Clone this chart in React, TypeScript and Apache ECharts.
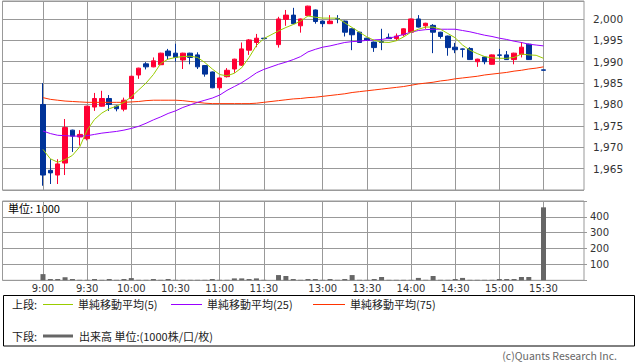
import React, { useEffect, useRef } from 'react';
import * as echarts from 'echarts';

const times = ['9:00','9:05','9:10','9:15','9:20','9:25','9:30','9:35','9:40','9:45','9:50','9:55',
  '10:00','10:05','10:10','10:15','10:20','10:25','10:30','10:35','10:40','10:45','10:50','10:55',
  '11:00','11:05','11:10','11:15','11:20','11:25','11:30','',
  '12:30','12:35','12:40','12:45','12:50','12:55','13:00','13:05','13:10','13:15','13:20','13:25',
  '13:30','13:35','13:40','13:45','13:50','13:55','14:00','14:05','14:10','14:15','14:20','14:25',
  '14:30','14:35','14:40','14:45','14:50','14:55','15:00','15:05','15:10','15:15','15:20','15:25','15:30'];

const tickLabels = ['9:00','9:30','10:00','10:30','11:00','11:30','13:00','13:30','14:00','14:30','15:00','15:30'];

const opens = [1980.0,1964.6,1963.5,1966.3,1974.0,1972.4,1972.0,1979.4,1979.6,1981.4,1979.6,1978.9,
  1981.4,1986.9,1989.5,1988.8,1989.3,1992.5,1992.0,1990.4,1992.0,1991.6,1989.1,1987.6,
  1983.9,1986.5,1988.3,1989.2,1992.7,1994.5,1995.5,null,
  1994.0,1999.9,2000.9,1998.4,2000.8,2002.1,1999.5,1998.9,2000.1,1999.5,1997.7,1996.9,
  1995.5,1994.6,1994.7,1995.7,1995.4,1996.3,1996.9,2000.0,1998.4,1998.5,1996.9,1996.0,
  1993.4,1993.0,1993.1,1990.0,1991.1,1989.4,1991.6,1991.6,1990.5,1991.7,1994.1,null,1988.1];
const closes = [1963.5,1964.0,1966.1,1974.6,1972.6,1973.0,1979.6,1981.4,1981.4,1980.0,1979.0,1981.0,
  1986.6,1988.5,1988.8,1990.2,1992.0,1991.4,1991.0,1992.0,1991.0,1988.8,1987.1,1983.9,
  1986.2,1988.0,1990.6,1993.0,1995.1,1995.5,1995.4,null,
  2000.0,2000.9,1998.9,2000.0,2003.0,1999.4,1998.9,1999.5,2000.0,1996.9,1996.3,1994.5,
  1995.0,1993.3,1994.5,1995.4,1996.0,1997.7,2000.0,1998.1,1999.0,1996.9,1995.9,1993.3,
  1992.8,1992.9,1990.5,1990.6,1990.0,1991.6,1991.5,1990.5,1992.0,1993.4,1990.5,null,1988.0];
const lows = [1961.0,1961.4,1961.4,1963.5,1968.9,1970.4,1971.6,1978.5,1979.5,1978.5,1978.4,1978.4,
  1981.3,1986.0,1988.2,1988.7,1989.2,1990.4,1990.0,1988.3,1989.4,1988.3,1986.5,1983.8,
  1983.4,1986.3,1987.4,1989.0,1991.6,1993.4,1995.4,null,
  1993.3,1998.4,1998.8,1996.8,2000.7,1998.9,1998.1,1998.8,1999.0,1995.9,1992.7,1994.4,
  1994.9,1992.3,1992.7,1995.3,1994.9,1995.9,1996.8,1998.0,1997.7,1992.0,1995.4,1991.4,
  1992.0,1991.0,1990.4,1988.8,1989.4,1989.3,1990.6,1990.4,1989.4,1991.0,1990.4,null,1988.0];
const highs = [1985.0,1967.2,1967.2,1976.6,1974.1,1974.0,1979.7,1982.7,1983.2,1982.2,1979.8,1981.6,
  1986.7,1988.6,1989.9,1991.0,1992.1,1993.0,1994.2,1992.1,1992.1,1992.2,1989.2,1987.7,
  1986.3,1988.5,1990.7,1994.5,1995.3,1996.5,1995.5,null,
  2000.5,2002.1,2002.6,2000.1,2003.1,2002.2,1999.6,2000.9,2000.9,1999.6,1997.8,1997.0,
  1995.6,1994.7,1997.7,1996.6,1996.6,1997.8,2000.1,2000.9,1999.1,1998.8,1997.0,1996.1,
  1994.4,1993.1,1993.4,1990.7,1991.2,1991.7,1993.0,1992.5,1992.1,1994.6,1994.2,null,1988.1];

const ma5 = [1969.5,1967.3,1966.5,1967.1,1968.1,1970.1,1974.0,1976.5,1978.0,1979.0,1979.6,1980.5,
  1981.8,1983.4,1985.0,1987.0,1989.6,1990.6,1991.0,1991.2,1991.3,1991.0,1989.8,1988.3,
  1987.0,1986.7,1987.3,1988.6,1991.0,1993.8,1995.4,null,
  1997.2,1998.0,1998.7,1999.5,2000.7,2000.4,2000.2,2000.2,2000.2,1999.1,1998.0,1996.9,
  1995.8,1995.0,1994.6,1994.5,1994.9,1995.8,1996.9,1997.6,1998.1,1998.1,1997.6,1996.6,
  1995.6,1993.9,1992.7,1991.9,1991.2,1990.9,1990.8,1990.8,1991.0,1991.8,1991.6,1991.5,1990.8];
const ma25 = [1973.8,1973.2,1972.8,1972.7,1972.6,1972.6,1972.7,1973.0,1973.3,1973.5,1973.7,1974.0,
  1974.4,1974.9,1975.6,1976.4,1977.1,1977.9,1978.5,1979.3,1979.9,1980.5,1981.0,1981.5,
  1982.2,1983.3,1984.2,1985.1,1986.2,1987.4,1988.2,null,
  1989.4,1989.9,1990.5,1991.2,1992.3,1992.9,1993.4,1993.7,1994.1,1994.5,1994.7,1994.8,
  1995.0,1995.1,1995.2,1995.5,1995.9,1996.4,1996.9,1997.3,1997.5,1997.6,1997.6,1997.6,
  1997.6,1997.3,1997.0,1996.6,1996.2,1995.9,1995.5,1995.2,1994.8,1994.5,1994.1,1993.9,1993.7];
const ma75 = [1981.6,1981.2,1981.0,1980.8,1980.7,1980.6,1980.5,1980.5,1980.5,1980.5,1980.5,1980.5,
  1980.6,1980.7,1980.9,1981.0,1981.0,1981.0,1981.0,1980.9,1980.7,1980.5,1980.3,1980.2,
  1980.2,1980.2,1980.2,1980.2,1980.2,1980.3,1980.5,null,
  1980.9,1981.1,1981.3,1981.4,1981.6,1981.7,1981.9,1982.1,1982.3,1982.5,1982.8,1983.0,
  1983.2,1983.4,1983.6,1983.8,1984.0,1984.2,1984.5,1984.8,1985.0,1985.2,1985.5,1985.7,
  1986.0,1986.2,1986.4,1986.6,1986.9,1987.1,1987.3,1987.5,1987.8,1988.0,1988.3,1988.5,1988.8];

const volumes = [39,8,8,20,8,3,3,8,3,8,3,8,14,3,3,8,3,8,3,3,3,3,3,8,3,3,12,12,8,12,3,null,
  33,27,8,3,8,8,3,8,3,8,33,3,3,8,21,3,3,3,3,15,3,27,3,3,8,15,3,3,3,3,8,8,8,21,21,null,460];

const PAD = 5;
const UP = '#ff0033';
const DOWN = '#003399';
const GRID = '#999999';
const CJK = '"Noto Sans CJK JP", "Noto Sans", sans-serif';
const NUM = '"DejaVu Sans", sans-serif';

export default function App() {
  const ref = useRef<HTMLDivElement>(null);
  useEffect(() => {
    if (!ref.current) return;
    const chart = echarts.init(ref.current, null, { renderer: 'svg' });
    const pad = (arr: any[]) => [...Array(PAD).fill('-'), ...arr.map((v) => (v === null ? '-' : v)), ...Array(PAD).fill('-')];
    const cats = [...Array(PAD).fill(''), ...times, ...Array(PAD).fill('')];
    const ohlc = [
      ...Array(PAD).fill(['-', '-', '-', '-']),
      ...times.map((_, i) => opens[i] === null ? ['-', '-', '-', '-'] : [opens[i], closes[i], lows[i], highs[i]]),
      ...Array(PAD).fill(['-', '-', '-', '-']),
    ];
    const gridInterval = (idx: number, val: string) => tickLabels.includes(val);
    const gridL = 2.5, gridW = 581.5;
    const lineS = (name: string, data: any[], color: string) => ({
      type: 'line', name, data: pad(data), xAxisIndex: 0, yAxisIndex: 0,
      symbol: 'none', connectNulls: true, z: 5,
      lineStyle: { color, width: 1 }, itemStyle: { color },
    });
    chart.setOption({
      animation: false,
      backgroundColor: '#ffffff',
      grid: [
        { left: gridL, top: 1, width: gridW, height: 189, show: true, borderColor: GRID, borderWidth: 1, backgroundColor: 'transparent' },
        { left: gridL, top: 201, width: gridW, height: 79.3, show: true, borderColor: GRID, borderWidth: 1, backgroundColor: 'transparent' },
      ],
      xAxis: [
        {
          type: 'category', gridIndex: 0, data: cats, boundaryGap: true,
          axisLine: { show: false }, axisTick: { show: false }, axisLabel: { show: false },
          splitLine: { show: true, interval: gridInterval, alignWithLabel: true, lineStyle: { color: GRID, width: 1 } },
        },
        {
          type: 'category', gridIndex: 1, data: cats, boundaryGap: true,
          axisLine: { show: false }, axisTick: { show: false },
          axisLabel: { show: true, interval: gridInterval, color: '#333', fontSize: 10, fontFamily: NUM, margin: 3 },
          splitLine: { show: true, interval: gridInterval, alignWithLabel: true, lineStyle: { color: GRID, width: 1 } },
        },
      ],
      yAxis: [
        {
          type: 'value', gridIndex: 0, position: 'right', min: 1960, max: 2004.2, interval: 5,
          axisLine: { show: false }, axisTick: { show: false },
          splitLine: { show: true, lineStyle: { color: GRID, width: 1 } },
          axisLabel: {
            color: '#333', fontSize: 10.5, fontFamily: NUM, margin: 9, showMinLabel: false, showMaxLabel: false,
            formatter: (v: number) => (v % 5 === 0 && v > 1960 && v <= 2000 ? v.toLocaleString('en-US') : ''),
          },
        },
        {
          type: 'value', gridIndex: 1, position: 'right', min: 0, max: 500, interval: 100,
          axisLine: { show: false }, axisTick: { show: true, length: 3, lineStyle: { color: GRID } },
          splitLine: { show: true, lineStyle: { color: GRID, width: 1 } },
          axisLabel: {
            color: '#333', fontSize: 10, fontFamily: NUM, margin: 6,
            formatter: (v: number) => (v > 0 && v < 500 ? String(v) : ''),
          },
        },
      ],
      series: [
        {
          type: 'candlestick', xAxisIndex: 0, yAxisIndex: 0, data: ohlc, barWidth: 5, z: 3,
          itemStyle: { color: UP, color0: DOWN, borderColor: UP, borderColor0: DOWN, borderWidth: 1 },
        },
        lineS('ma75', ma75, '#ff3300'),
        lineS('ma25', ma25, '#9900ff'),
        lineS('ma5', ma5, '#99cc00'),
        {
          type: 'bar', xAxisIndex: 1, yAxisIndex: 1, data: pad(volumes), barWidth: 5,
          itemStyle: { color: '#666666' },
        },
      ],
      graphic: [
        { type: 'text', left: 8, top: 202, style: { text: '単位: 1000', fill: '#000', font: `11px ${CJK}` } },
        { type: 'rect', shape: { x: 3.5, y: 295.5, width: 631, height: 50.5 }, style: { fill: 'none', stroke: '#000', lineWidth: 1 } },
        { type: 'text', x: 12, y: 304, style: { text: '上段:', fill: '#222', font: `11px ${CJK}`, verticalAlign: 'middle' } },
        { type: 'line', shape: { x1: 43, y1: 304.5, x2: 73, y2: 304.5 }, style: { stroke: '#99cc00', lineWidth: 1 } },
        { type: 'text', x: 78, y: 304, style: { text: '単純移動平均(5)', fill: '#222', font: `11px ${CJK}`, verticalAlign: 'middle' } },
        { type: 'line', shape: { x1: 171, y1: 304.5, x2: 202, y2: 304.5 }, style: { stroke: '#9900ff', lineWidth: 1 } },
        { type: 'text', x: 207, y: 304, style: { text: '単純移動平均(25)', fill: '#222', font: `11px ${CJK}`, verticalAlign: 'middle' } },
        { type: 'line', shape: { x1: 313, y1: 304.5, x2: 345, y2: 304.5 }, style: { stroke: '#ff3300', lineWidth: 1 } },
        { type: 'text', x: 350, y: 304, style: { text: '単純移動平均(75)', fill: '#222', font: `11px ${CJK}`, verticalAlign: 'middle' } },
        { type: 'text', x: 12, y: 336, style: { text: '下段:', fill: '#222', font: `11px ${CJK}`, verticalAlign: 'middle' } },
        { type: 'line', shape: { x1: 43, y1: 336, x2: 73, y2: 336 }, style: { stroke: '#666666', lineWidth: 3 } },
        { type: 'text', x: 79, y: 336, style: { text: '出来高 単位:(1000株/口/枚)', fill: '#222', font: `11px ${CJK}`, verticalAlign: 'middle' } },
        { type: 'text', x: 617, y: 355, style: { text: '(c)Quants Research Inc.', fill: '#666', font: `10.5px ${CJK}`, align: 'right', verticalAlign: 'middle' } },
      ],
    });
    return () => chart.dispose();
  }, []);
  return <div ref={ref} style={{ position: 'absolute', left: 0, top: 0, width: 638, height: 362, background: '#fff' }} />;
}
